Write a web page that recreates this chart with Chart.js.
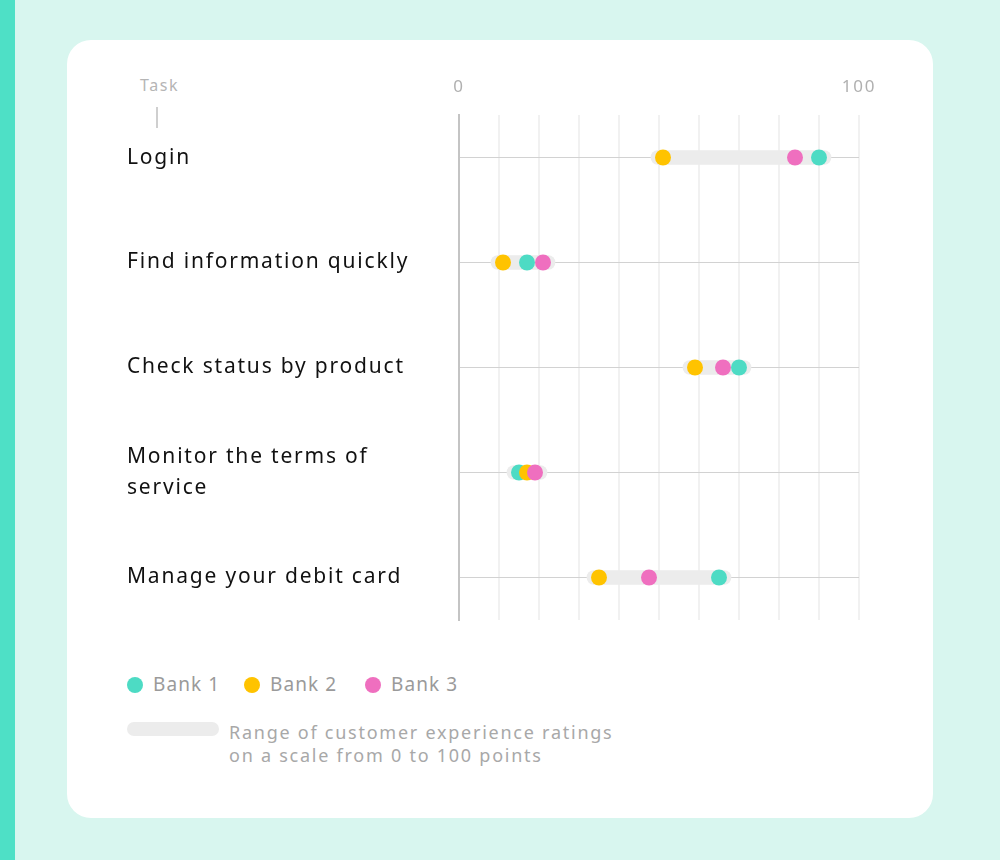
<!DOCTYPE html>
<html>
<head>
<meta charset="utf-8">
<script src="https://cdn.jsdelivr.net/npm/chart.js@4"></script>
<style>
  html,body{margin:0;padding:0;}
  body{width:1000px;height:860px;background:#d8f6ef;position:relative;overflow:hidden;font-family:"Noto Sans",sans-serif;}
  #strip{position:absolute;left:0;top:0;width:15px;height:860px;background:#4ee0c6;}
  #card{position:absolute;left:67px;top:40px;width:866px;height:778px;background:#fff;border-radius:24px;}
  #cwrap{position:absolute;left:67px;top:40px;width:866px;height:600px;}
  #task{position:absolute;left:140px;top:74px;font-size:16px;letter-spacing:1.6px;color:#b5b5b5;}
  #taskline{position:absolute;left:156px;top:107px;width:2px;height:21px;background:#cfcfcf;}
  .leg{position:absolute;font-size:19px;letter-spacing:1.1px;color:#9a9a9a;line-height:24px;}
  .dot{position:absolute;width:16px;height:16px;border-radius:50%;}
  #pill{position:absolute;left:127px;top:722px;width:92px;height:14px;border-radius:7px;background:#ececec;}
  #rangeTxt{position:absolute;left:229px;top:721px;font-size:18px;letter-spacing:1.75px;color:#a8a8a8;line-height:23px;}
</style>
</head>
<body>
<div id="strip"></div>
<div id="card"></div>
<div id="task">Task</div>
<div id="taskline"></div>
<div id="cwrap"><canvas id="c" width="866" height="600"></canvas></div>
<div id="legend"></div>
<div id="pill"></div>
<div id="rangeTxt">Range of customer experience ratings<br>on a scale from 0 to 100 points</div>
<script>
const categories = ['Login', 'Find information quickly', 'Check status by product', ['Monitor the terms of', 'service'], 'Manage your debit card'];
const seriesNames = ['Bank 1', 'Bank 2', 'Bank 3'];
const bank1 = [90, 17, 70, 15, 65];
const bank2 = [51, 11, 59, 17, 35];
const bank3 = [84, 21, 66, 19, 47.5];
const shownXTicks = [0, 100];

const colors = ['#4ddbc4', '#ffc300', '#ef6fbf'];
const series = [bank1, bank2, bank3];
const rangePad = 3;

const rangeData = categories.map((c, i) => {
  const vals = series.map(s => s[i]);
  return {x: [Math.min(...vals) - rangePad, Math.max(...vals) + rangePad], y: i};
});

const datasets = [{
  type: 'bar',
  label: 'Range',
  indexAxis: 'y',
  data: rangeData,
  backgroundColor: '#ececec',
  barThickness: 14,
  borderRadius: 7,
  borderSkipped: false,
  order: 10
}];
series.forEach((s, k) => {
  datasets.push({
    type: 'scatter',
    label: seriesNames[k],
    data: s.map((v, i) => ({x: v, y: i})),
    backgroundColor: colors[k],
    borderWidth: 0,
    pointRadius: 8,
    pointHoverRadius: 8,
    order: 3 - k
  });
});

// HTML legend
const legend = document.getElementById('legend');
const legX = [127, 244, 365];
seriesNames.forEach((n, k) => {
  const d = document.createElement('div');
  d.className = 'dot';
  d.style.left = legX[k] + 'px';
  d.style.top = '677px';
  d.style.background = colors[k];
  legend.appendChild(d);
  const t = document.createElement('div');
  t.className = 'leg';
  t.style.left = (legX[k] + 26) + 'px';
  t.style.top = '672px';
  t.textContent = n;
  legend.appendChild(t);
});

const spacing = {
  id: 'spacing',
  beforeDraw(chart) { chart.ctx.letterSpacing = '1.8px'; }
};

new Chart(document.getElementById('c'), {
  type: 'scatter',
  data: {datasets},
  plugins: [spacing],
  options: {
    responsive: false,
    animation: false,
    layout: {padding: {left: 60, right: 74, top: 0, bottom: 20}},
    plugins: {legend: {display: false}, tooltip: {enabled: false}},
    scales: {
      x: {
        type: 'linear',
        position: 'top',
        min: 0, max: 100,
        afterFit: s => { s.height = 75; },
        ticks: {
          stepSize: 10,
          autoSkip: false,
          maxRotation: 0,
          padding: 18,
          color: '#b0b0b0',
          font: {family: 'Noto Sans', size: 17},
          callback: v => shownXTicks.includes(v) ? String(v) : ''
        },
        grid: {color: '#f1f1f1', lineWidth: 2, drawTicks: false},
        border: {display: false}
      },
      y: {
        type: 'linear',
        reverse: true,
        offset: false,
        min: -0.405, max: 4.405,
        afterFit: s => { s.width = 332; },
        afterBuildTicks: s => { s.ticks = categories.map((c, i) => ({value: i})); },
        ticks: {
          crossAlign: 'far',
          autoSkip: false,
          color: '#111',
          font: {family: 'Noto Sans', size: 21, lineHeight: 1.5},
          callback: v => categories[v]
        },
        grid: {color: '#d2d2d2', lineWidth: 1, drawTicks: false, offset: false},
        border: {display: true, color: '#c4c4c4', width: 2}
      }
    }
  }
});
</script>
</body>
</html>
